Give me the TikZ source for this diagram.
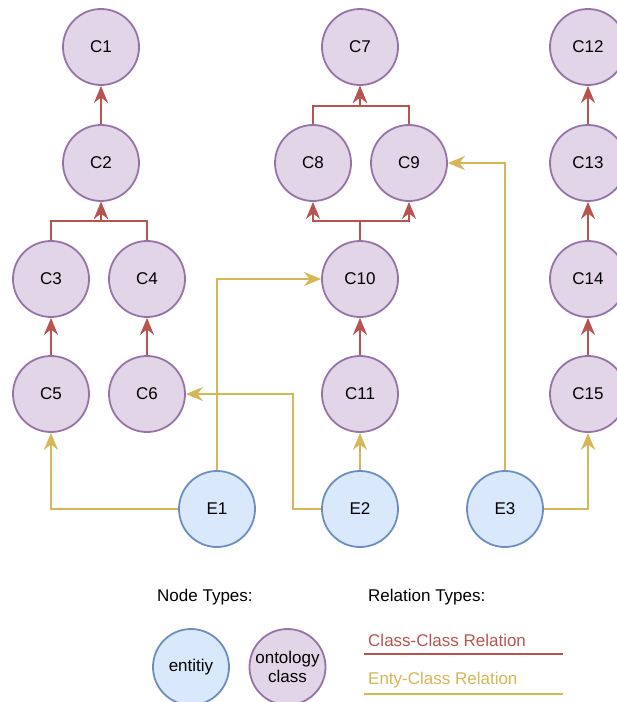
\documentclass[tikz,border=0pt]{standalone}
\usepackage{fontspec}
\setmainfont{Liberation Sans}
\usetikzlibrary{arrows.meta}
\definecolor{clsfill}{HTML}{E1D5E7}
\definecolor{clsdraw}{HTML}{9673A6}
\definecolor{entfill}{HTML}{DAE8FC}
\definecolor{entdraw}{HTML}{6C8EBF}
\definecolor{ccrel}{HTML}{B85450}
\definecolor{ecrel}{HTML}{D6B656}
\begin{document}
\begin{tikzpicture}[x=1pt,y=-1pt,
  font=\fontsize{17}{19.5}\selectfont,
  base/.style={circle,minimum size=76pt,inner sep=0pt,line width=1.8pt,align=center},
  cls/.style={base,fill=clsfill,draw=clsdraw},
  ent/.style={base,fill=entfill,draw=entdraw},
  tip/.style={-{Stealth[length=17pt,width=14pt,inset=5.5pt]}},
  cc/.style={tip,draw=ccrel,line width=1.9pt},
  ec/.style={tip,draw=ecrel,line width=1.9pt},
  legline/.style={line width=1.9pt}]
\useasboundingbox (0,0) rectangle (617,702);

% class nodes
\node[cls] (C1) at (101,47) {C1};
\node[cls] (C2) at (101,163) {C2};
\node[cls] (C3) at (51,279) {C3};
\node[cls] (C4) at (147,279) {C4};
\node[cls] (C5) at (51,394) {C5};
\node[cls] (C6) at (147,394) {C6};
\node[cls] (C7) at (360,47) {C7};
\node[cls] (C8) at (313,163) {C8};
\node[cls] (C9) at (409,163) {C9};
\node[cls] (C10) at (360,279) {C10};
\node[cls] (C11) at (360,394) {C11};
\node[cls] (C12) at (588,47) {C12};
\node[cls] (C13) at (588,163) {C13};
\node[cls] (C14) at (588,279) {C14};
\node[cls] (C15) at (588,394) {C15};

% entity nodes
\node[ent] (E1) at (217,509) {E1};
\node[ent] (E2) at (360,509) {E2};
\node[ent] (E3) at (505,509) {E3};

% junction points
\coordinate (j2) at (101,221);
\coordinate (j7) at (360,106);
\coordinate (j10) at (360,221);
\coordinate (k2) at (293,509);

% class-class relations
\draw[cc] (C2) -- (C1);
\draw[cc] (C3.north) |- (j2) -- (C2.south);
\draw[cc] (C4.north) |- (j2) -- (C2.south);
\draw[cc] (C5) -- (C3);
\draw[cc] (C6) -- (C4);
\draw[cc] (C8.north) |- (j7) -- (C7.south);
\draw[cc] (C9.north) |- (j7) -- (C7.south);
\draw[cc] (C10.north) -- (j10) -| (C8.south);
\draw[cc] (C10.north) -- (j10) -| (C9.south);
\draw[cc] (C11) -- (C10);
\draw[cc] (C13) -- (C12);
\draw[cc] (C14) -- (C13);
\draw[cc] (C15) -- (C14);

% entity-class relations
\draw[ec] (E1.west) -| (C5.south);
\draw[ec] (E1.north) |- (C10.west);
\draw[ec] (E2.west) -- (k2) |- (C6.east);
\draw[ec] (E2) -- (C11);
\draw[ec] (E3.north) |- (C9.east);
\draw[ec] (E3.east) -| (C15.south);

% legend
\node[anchor=west,inner sep=0pt] (ntypes) at (157,597) {Node Types:};
\node[anchor=west,inner sep=0pt] (rtypes) at (368,597) {Relation Types:};
\node[ent] (lent) at (191,667) {entitiy};
\node[cls,font=\fontsize{17}{18.5}\selectfont] (lcls) at (287.5,667) {ontology\\class};
\node[anchor=west,inner sep=0pt,text=ccrel] (lcc) at (368,640) {Class-Class Relation};
\node[anchor=west,inner sep=0pt,text=ecrel] (lec) at (368,680) {Enty-Class Relation};
\coordinate (lccA) at (364,654);
\coordinate (lccB) at (563,654);
\coordinate (lecA) at (364,694);
\coordinate (lecB) at (563,694);
\draw[legline,draw=ccrel] (lccA) -- (lccB);
\draw[legline,draw=ecrel] (lecA) -- (lecB);
\end{tikzpicture}
\end{document}
